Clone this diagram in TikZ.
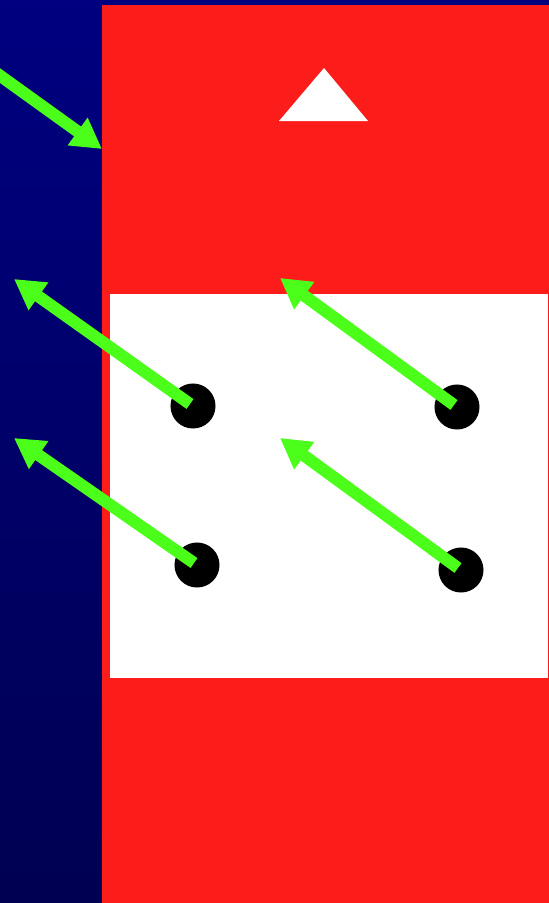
\documentclass[tikz,border=0pt]{standalone}
\usetikzlibrary{arrows.meta}
\definecolor{navytop}{RGB}{0,0,128}
\definecolor{navybot}{RGB}{0,0,82}
\definecolor{flagred}{RGB}{252,28,26}
\definecolor{pointer}{RGB}{76,255,26}
\tikzset{
  pin/.style = {circle, fill=black, inner sep=0pt, minimum size=.45cm},
  pointer arrow/.style = {draw=pointer, line width=.12cm,
    -{Triangle[length=.3cm, width=.32cm]}}
}
\begin{document}
\begin{tikzpicture}[x=.01cm, y=-.01cm]
    \clip (0,0) rectangle (549,903);
    \shade [top color=navytop, bottom color=navybot] (0,0) rectangle (549,903);
    \fill [flagred] (102,5) rectangle (549,903);
    \fill [white] (279,121) -- (324,68) -- (368,121) -- cycle;
    \fill [white] (110,294) rectangle (548,678);
    \foreach \n/\x/\y in {a/193/406, b/457/407, c/197/565, d/461/570}
      \node [pin] (\n) at (\x,\y) {};
    \coordinate (s0) at (-12,67);
    \coordinate (t0) at (102,149);
    \coordinate (ta) at (14,279);
    \coordinate (tb) at (280,278);
    \coordinate (tc) at (14,438);
    \coordinate (td) at (280,438);
    \draw [pointer arrow] (s0) -- (t0);
    \foreach \n in {a, b, c, d}
      \draw [pointer arrow] ([shift={(-3,-2)}]\n.center) -- (t\n);
  \end{tikzpicture}
\end{document}
